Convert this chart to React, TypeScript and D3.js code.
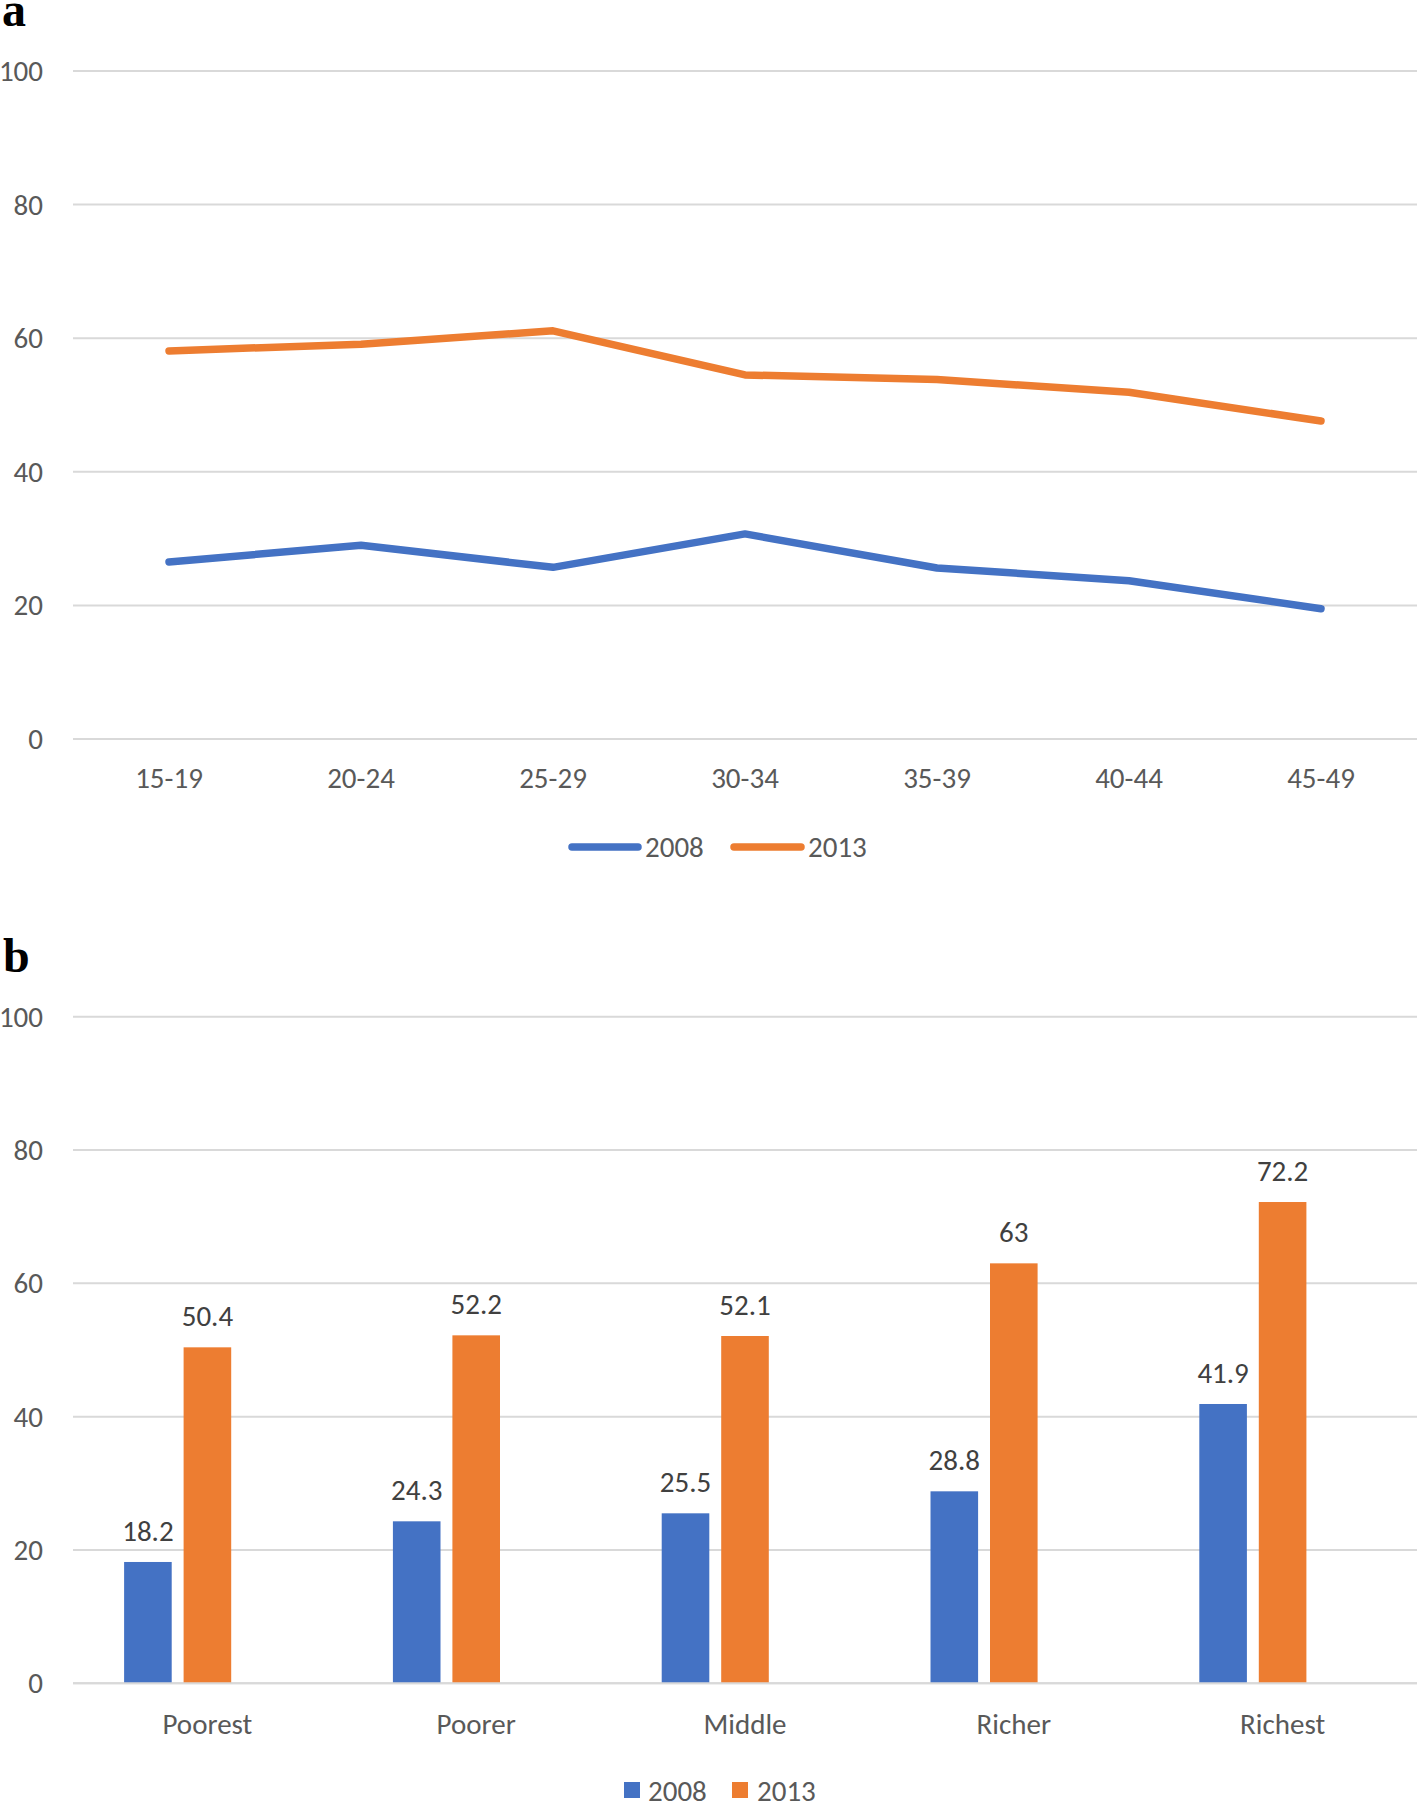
import React from "react";
import * as d3 from "d3";

const ageGroups = ["15-19", "20-24", "25-29", "30-34", "35-39", "40-44", "45-49"];
const age2008 = [26.5, 29.0, 25.7, 30.7, 25.6, 23.7, 19.5];
const age2013 = [58.1, 59.1, 61.1, 54.5, 53.8, 51.9, 47.6];

const wealthGroups = ["Poorest", "Poorer", "Middle", "Richer", "Richest"];
const wealth2008 = [18.2, 24.3, 25.5, 28.8, 41.9];
const wealth2013 = [50.4, 52.2, 52.1, 63, 72.2];

const seriesNames = ["2008", "2013"];
const yTicks = [0, 20, 40, 60, 80, 100];

const BLUE = "#4472C4";
const ORANGE = "#ED7D31";
const GRID = "#d9d9d9";
const AXIS_TEXT = "#595959";
const LABEL_TEXT = "#404040";
const FONT = "Carlito, Lato, sans-serif";
const FS = 29;

export default function App() {
  const W = 1418;
  const H = 1802;
  const left = 73;
  const right = 1417;

  // Top chart
  const yA = d3.scaleLinear().domain([0, 100]).range([739, 71]);
  const xA = d3.scalePoint<string>().domain(ageGroups).range([left, right]).padding(0.5);
  const line = d3
    .line<number>()
    .x((_, i) => xA(ageGroups[i]) as number)
    .y((d) => yA(d));

  // Bottom chart
  const yB = d3.scaleLinear().domain([0, 100]).range([1683.3, 1016.7]);
  const xB = d3.scaleBand<string>().domain(wealthGroups).range([left, right]).paddingInner(0).paddingOuter(0);
  const xSub = d3
    .scaleBand<string>()
    .domain(["2008", "2013", "_"])
    .range([0, xB.bandwidth()])
    .paddingInner(0.2)
    .paddingOuter(0.859);

  const barSeries = [
    { name: "2008", values: wealth2008, color: BLUE },
    { name: "2013", values: wealth2013, color: ORANGE },
  ];

  return (
    <svg
      width={W}
      height={H}
      style={{ position: "absolute", left: 0, top: 0, background: "#fff" }}
      fontFamily={FONT}
    >
      <rect x={0} y={0} width={W} height={H} fill="#fff" />
      {/* Panel labels */}
      <text x={2} y={26} fontFamily="'Liberation Serif', 'Times New Roman', serif" fontWeight="bold" fontSize={48} fill="#000">
        a
      </text>
      <text x={3} y={972} fontFamily="'Liberation Serif', 'Times New Roman', serif" fontWeight="bold" fontSize={48} fill="#000">
        b
      </text>

      {/* Top chart grid */}
      {yTicks.map((t) => (
        <g key={"ga" + t}>
          <line x1={left} x2={right} y1={yA(t)} y2={yA(t)} stroke={GRID} strokeWidth={2} />
          <text x={43} y={yA(t)} textAnchor="end" dominantBaseline="central" fontSize={FS} fill={AXIS_TEXT}>
            {t}
          </text>
        </g>
      ))}
      {ageGroups.map((g) => (
        <text key={g} x={xA(g)} y={778} textAnchor="middle" dominantBaseline="central" fontSize={FS} fill={AXIS_TEXT}>
          {g}
        </text>
      ))}
      <path d={line(age2008) || ""} fill="none" stroke={BLUE} strokeWidth={7.5} strokeLinejoin="round" strokeLinecap="round" />
      <path d={line(age2013) || ""} fill="none" stroke={ORANGE} strokeWidth={7.5} strokeLinejoin="round" strokeLinecap="round" />

      {/* Top legend */}
      <line x1={572} x2={638} y1={847} y2={847} stroke={BLUE} strokeWidth={7.5} strokeLinecap="round" />
      <text x={645} y={847} dominantBaseline="central" fontSize={FS} fill={AXIS_TEXT}>
        {seriesNames[0]}
      </text>
      <line x1={734} x2={801} y1={847} y2={847} stroke={ORANGE} strokeWidth={7.5} strokeLinecap="round" />
      <text x={808} y={847} dominantBaseline="central" fontSize={FS} fill={AXIS_TEXT}>
        {seriesNames[1]}
      </text>

      {/* Bottom chart grid */}
      {yTicks.map((t) => (
        <g key={"gb" + t}>
          <line x1={left} x2={right} y1={yB(t)} y2={yB(t)} stroke={GRID} strokeWidth={2} />
          <text x={43} y={yB(t)} textAnchor="end" dominantBaseline="central" fontSize={FS} fill={AXIS_TEXT}>
            {t}
          </text>
        </g>
      ))}
      {barSeries.map((s) =>
        wealthGroups.map((g, i) => {
          const x = (xB(g) as number) + (xSub(s.name) as number);
          const v = s.values[i];
          return (
            <g key={s.name + g}>
              <rect x={x} y={yB(v)} width={xSub.bandwidth()} height={yB(0) - yB(v)} fill={s.color} />
              <text
                x={x + xSub.bandwidth() / 2}
                y={yB(v) - 31}
                textAnchor="middle"
                dominantBaseline="central"
                fontSize={FS}
                fill={LABEL_TEXT}
              >
                {v}
              </text>
            </g>
          );
        })
      )}
      <line x1={left} x2={right} y1={yB(0)} y2={yB(0)} stroke={GRID} strokeWidth={2} />
      {wealthGroups.map((g) => (
        <text
          key={g}
          x={(xB(g) as number) + xB.bandwidth() / 2}
          y={1724}
          textAnchor="middle"
          dominantBaseline="central"
          fontSize={FS}
          fill={AXIS_TEXT}
        >
          {g}
        </text>
      ))}

      {/* Bottom legend */}
      <rect x={624} y={1782} width={16} height={16} fill={BLUE} />
      <text x={648} y={1791} dominantBaseline="central" fontSize={FS} fill={AXIS_TEXT}>
        {seriesNames[0]}
      </text>
      <rect x={732} y={1782} width={16} height={16} fill={ORANGE} />
      <text x={757} y={1791} dominantBaseline="central" fontSize={FS} fill={AXIS_TEXT}>
        {seriesNames[1]}
      </text>
    </svg>
  );
}
